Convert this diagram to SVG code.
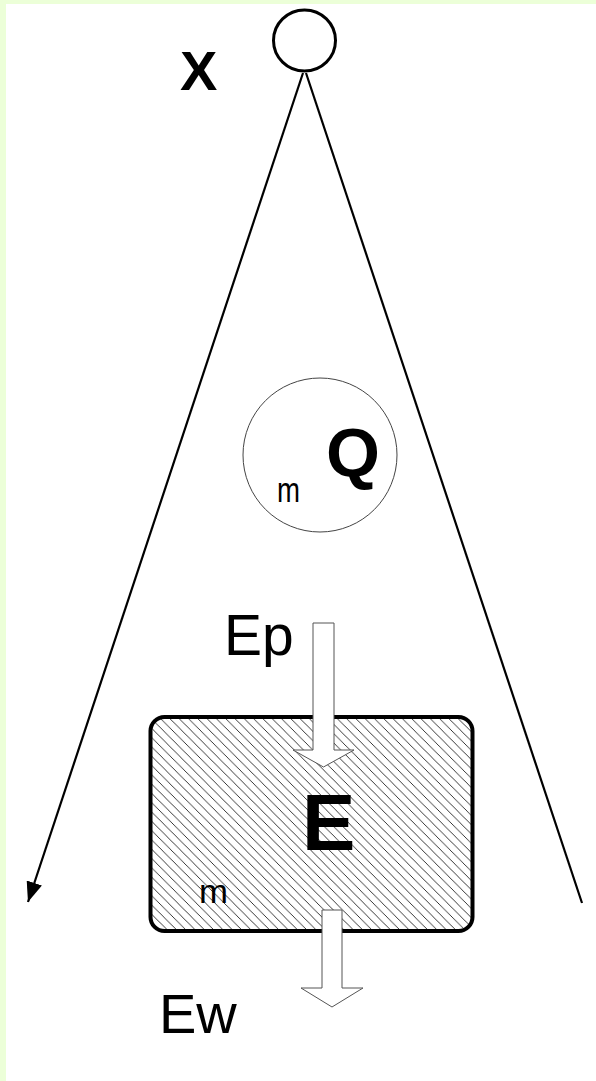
<svg xmlns="http://www.w3.org/2000/svg" width="596" height="1081" viewBox="0 0 596 1081">
<style>
.lbl{font-family:"Liberation Sans",Arial,sans-serif;fill:#000}
.b{font-weight:bold}
.ray{stroke:#000;stroke-width:2.2;fill:none}
.hollow{fill:#fff;stroke:#555;stroke-width:1}
</style>
<defs>
<pattern id="hatch" patternUnits="userSpaceOnUse" width="9.3" height="9.3">
<path d="M-1,-1 L10.3,10.3 M-1,8.3 L1,10.3 M8.3,-1 L10.3,1" stroke="#222" stroke-width="0.9"/>
</pattern>
<marker id="tip" markerUnits="userSpaceOnUse" markerWidth="22" markerHeight="16" refX="20" refY="8" orient="auto">
<path d="M0,0 L20,8 L0,16 Z" fill="#000"/>
</marker>
</defs>
<rect width="596" height="1081" fill="#fff"/>
<rect x="0" y="0" width="596" height="4" fill="#ECFFD8"/>
<rect x="0" y="0" width="6" height="1081" fill="#ECFFD8"/>

<g id="observer">
<ellipse cx="304.5" cy="40.5" rx="31" ry="30.5" fill="#fff" stroke="#000" stroke-width="3"/>
<text class="lbl b" x="180" y="90" font-size="56">X</text>
</g>

<g id="node-q">
<circle cx="320" cy="455" r="77" fill="#fff" stroke="#444" stroke-width="1"/>
<text class="lbl b" x="326" y="476" font-size="68" textLength="54" lengthAdjust="spacingAndGlyphs">Q</text>
<text class="lbl" x="277" y="502" font-size="35" textLength="23" lengthAdjust="spacingAndGlyphs">m</text>
</g>

<g id="node-e">
<rect x="150.5" y="717" width="322" height="214" rx="14" ry="14" fill="url(#hatch)" stroke="#000" stroke-width="4"/>
<text class="lbl b" x="302" y="850" font-size="80">E</text>
<text class="lbl" x="199" y="903" font-size="33" textLength="29" lengthAdjust="spacingAndGlyphs">m</text>
</g>

<g id="connectors">
<line class="ray" x1="303" y1="73" x2="28" y2="902" marker-end="url(#tip)"/>
<line class="ray" x1="306" y1="73" x2="582" y2="903"/>
<polygon class="hollow" points="313,623 334,623 334,750 354,750 323.5,767 293,750 313,750"/>
<polygon class="hollow" points="322,910 342,910 342,988 363,988 332,1007 301,988 322,988"/>
</g>

<g id="labels">
<text class="lbl" x="224" y="655" font-size="57">Ep</text>
<text class="lbl" x="159" y="1033" font-size="56">Ew</text>
</g>
</svg>
